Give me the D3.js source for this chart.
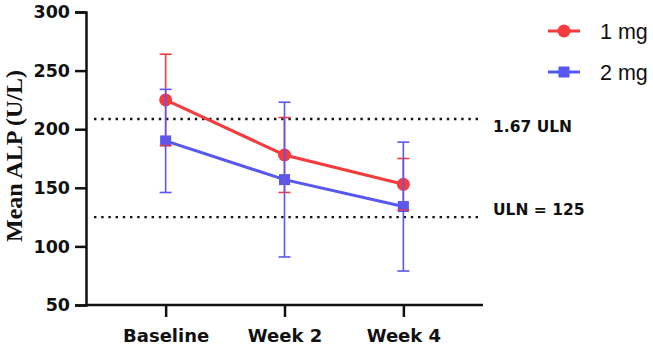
<!DOCTYPE html>
<html>
<head>
<meta charset="utf-8">
<script src="https://cdn.jsdelivr.net/npm/d3@7"></script>
<style>
  html, body { margin: 0; padding: 0; background: #fff; }
  svg { display: block; }
</style>
</head>
<body>
<svg id="chart" width="653" height="345"></svg>
<script>
// ---- data ----
const categories = ["Baseline", "Week 2", "Week 4"];
const seriesNames = ["1 mg", "2 mg"];
const mean1mg = [225, 178, 153];
const err1mg = [39, 32, 22];
const mean2mg = [190, 157, 134];
const err2mg = [44, 66, 55];
const yTicks = [50, 100, 150, 200, 250, 300];
const refValues = [208.75, 125];
const refLabels = ["1.67 ULN", "ULN = 125"];
const yTitle = "Mean ALP (U/L)";

// ---- layout ----
const plotLeft = 86, plotRight = 483, plotTop = 12, plotBottom = 305;
const colors = ["#f43c3f", "#5757f2"];

const svg = d3.select("#chart");

const x = d3.scalePoint().domain(categories).range([plotLeft, plotRight]).padding(0.67);
const y = d3.scaleLinear().domain([50, 300]).range([plotBottom, plotTop]);

// reference dotted lines
const refG = svg.append("g");
refValues.forEach((v, i) => {
  refG.append("line")
    .attr("x1", plotLeft + 8).attr("x2", plotRight - 5)
    .attr("y1", y(v)).attr("y2", y(v))
    .attr("stroke", "#111").attr("stroke-width", 2.4)
    .attr("stroke-dasharray", "2.4 4.8");
  refG.append("text")
    .attr("x", plotRight + 10).attr("y", y(v) + (i === 0 ? 13 : -2))
    .attr("font-family", "DejaVu Sans").attr("font-weight", "bold")
    .attr("font-size", 15.5).attr("fill", "#111")
    .text(refLabels[i]);
});

// axes
const yAxis = d3.axisLeft(y).tickValues(yTicks).tickSize(11).tickPadding(5);
const gy = svg.append("g").attr("transform", `translate(${plotLeft},0)`).call(yAxis);
gy.select(".domain").attr("stroke", "#111").attr("stroke-width", 2.5);
gy.selectAll(".tick line").attr("stroke", "#111").attr("stroke-width", 2.5);
gy.selectAll(".tick text")
  .attr("font-family", "DejaVu Sans").attr("font-weight", "bold")
  .attr("font-size", 17.5).attr("fill", "#111");

const xAxis = d3.axisBottom(x).tickSize(12).tickPadding(12);
const gx = svg.append("g").attr("transform", `translate(0,${plotBottom})`).call(xAxis);
gx.select(".domain").attr("stroke", "#111").attr("stroke-width", 2.5)
  .attr("d", `M${plotLeft},0H${plotRight}`);
gx.selectAll(".tick line").attr("stroke", "#111").attr("stroke-width", 2.5);
gx.selectAll(".tick text")
  .attr("font-family", "DejaVu Sans").attr("font-weight", "bold")
  .attr("font-size", 18).attr("fill", "#111");

// y title
svg.append("text")
  .attr("transform", `translate(22,156) rotate(-90)`)
  .attr("text-anchor", "middle")
  .attr("font-family", "Liberation Serif").attr("font-weight", "bold")
  .attr("font-size", 24).attr("fill", "#111")
  .text(yTitle);

// series
const series = [
  { name: seriesNames[0], mean: mean1mg, err: err1mg, color: colors[0], shape: "circle" },
  { name: seriesNames[1], mean: mean2mg, err: err2mg, color: colors[1], shape: "square" }
];

const line = d3.line().x((d, i) => x(categories[i])).y(d => y(d));

series.slice().reverse().forEach(s => {
  svg.append("path").datum(s.mean)
    .attr("d", line).attr("fill", "none")
    .attr("stroke", s.color).attr("stroke-width", 3);
});

function drawMarker(g, s, cx, cy) {
  if (s.shape === "circle") {
    g.append("circle").attr("cx", cx).attr("cy", cy).attr("r", 6.5).attr("fill", s.color);
  } else {
    g.append("rect").attr("x", cx - 5.5).attr("y", cy - 5.5).attr("width", 11).attr("height", 11).attr("fill", s.color);
  }
}
series.slice().reverse().forEach(s => {
  const g = svg.append("g");
  s.mean.forEach((m, i) => drawMarker(g, s, x(categories[i]), y(m)));
});

series.forEach(s => {
  const g = svg.append("g").attr("stroke", s.color).attr("stroke-width", 1.6);
  s.mean.forEach((m, i) => {
    const cx = x(categories[i]);
    const y1 = y(m + s.err[i]), y2 = y(m - s.err[i]);
    g.append("line").attr("x1", cx).attr("x2", cx).attr("y1", y1).attr("y2", y2);
    g.append("line").attr("x1", cx - 6).attr("x2", cx + 6).attr("y1", y1).attr("y2", y1);
    g.append("line").attr("x1", cx - 6).attr("x2", cx + 6).attr("y1", y2).attr("y2", y2);
  });
});

// legend
const legend = svg.append("g");
series.forEach((s, i) => {
  const ly = 31 + i * 41;
  const lx1 = 548, lx2 = 580;
  legend.append("line").attr("x1", lx1).attr("x2", lx2).attr("y1", ly).attr("y2", ly)
    .attr("stroke", s.color).attr("stroke-width", 3);
  drawMarker(legend, s, (lx1 + lx2) / 2, ly);
  legend.append("text").attr("x", 600).attr("y", ly + 7.5)
    .attr("font-family", "Liberation Sans").attr("font-size", 21.5).attr("fill", "#111")
    .text(s.name);
});
</script>
</body>
</html>
